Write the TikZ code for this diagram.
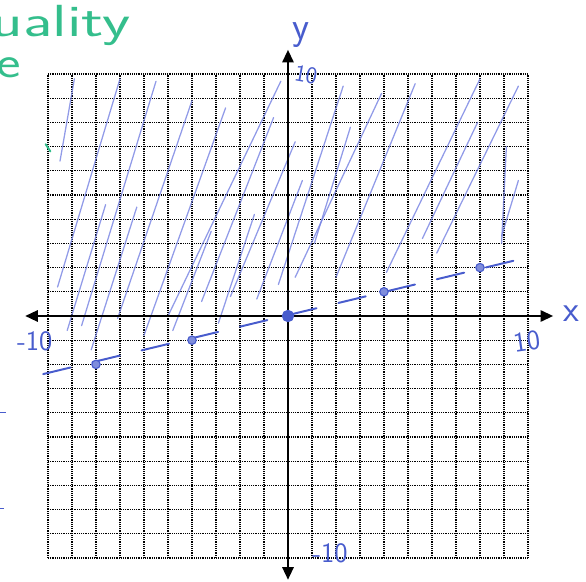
\documentclass[tikz,border=0pt]{standalone}
\usetikzlibrary{arrows.meta}
\definecolor{penblue}{RGB}{72,92,205}
\definecolor{hatchblue}{RGB}{118,130,226}
\definecolor{greenink}{RGB}{52,190,140}
\begin{document}
\begin{tikzpicture}[x=0.6cm,y=0.605cm,
  gridline/.style={black, line width=0.8pt, dash pattern=on 0.7pt off 0.6pt},
  axis/.style={black, line width=1.6pt, -{Triangle[length=9pt,width=8pt]}},
  hatch/.style={hatchblue, line width=0.9pt, line cap=round, opacity=0.8},
  bound/.style={penblue, line width=1.4pt, line cap=round, dash pattern=on 20pt off 16pt},
  dotpt/.style={circle, fill=penblue!70, draw=penblue, line width=0.8pt, inner sep=0pt, minimum size=6pt},
  hand/.style={penblue, font=\sffamily\fontsize{20}{20}\selectfont, inner sep=0pt},
  greentext/.style={greenink, font=\sffamily\fontsize{32}{32}\selectfont, inner sep=0pt}
]
\useasboundingbox (-12,-10.992) rectangle (12.417,13.058);
% grid
\draw[gridline] (-10,-10) grid[step={(1,1)}] (10,10);
% hatching (shading above y = x/4)
\foreach \a/\b/\c/\d in {
  -9.5/6.4/-8.9/9.8,
  -9.6/1.2/-7.0/9.8,
  -9.2/-0.6/-7.6/4.6,
  -8.6/-0.4/-5.5/9.7,
  -8.2/-1.4/-6.3/4.5,
  -7.1/-0.1/-4.0/8.9,
  -6.0/-0.8/-2.6/8.6,
  -5.0/0.0/-0.3/9.7,
  -4.8/-0.6/-3.2/3.5,
  -3.6/0.6/-0.6/8.2,
  -2.9/-0.3/-1.4/4.2,
  -2.4/0.8/0.3/7.2,
  -1.3/0.7/0.6/5.6,
  -0.4/1.3/2.3/9.5,
  0.3/1.6/3.9/9.2,
  1.1/3.0/2.6/7.8,
  2.0/1.6/5.3/9.6,
  4.1/1.8/8.0/9.8,
  5.6/3.2/7.9/8.0,
  6.2/2.6/9.6/9.5,
  8.9/3.0/9.1/7.0,
  8.9/3.3/9.6/5.6}
  \draw[hatch] (\a,\b) -- (\c,\d);
% axes
\coordinate (xl) at (-10.95,0);
\coordinate (xr) at (11.05,0);
\coordinate (yb) at (0,-10.9);
\coordinate (yt) at (0,11.0);
\draw[axis] (0,0) -- (xl);
\draw[axis] (0,0) -- (xr);
\draw[axis] (0,0) -- (yb);
\draw[axis] (0,0) -- (yt);
% boundary line y = x/4 (dashed)
\coordinate (bl) at (-10.2,-2.4);
\coordinate (br) at (10.1,2.45);
\draw[bound] (bl) -- (br);
% plotted points
\node[dotpt] (p1) at (-8,-2) {};
\node[dotpt] (p2) at (-4,-1) {};
\node[dotpt, minimum size=8pt, fill=penblue] (p0) at (0,0) {};
\node[dotpt] (p3) at (4,1) {};
\node[dotpt] (p4) at (8,2) {};
% handwritten labels
\node[hand, font=\sffamily\fontsize{28}{28}\selectfont] (ylab) at (0.55,11.6) {y};
\node[hand, rotate=-10, font=\sffamily\fontsize{17}{17}\selectfont] (y10) at (0.75,9.95) {10};
\node[hand, font=\sffamily\fontsize{26}{26}\selectfont] (xlab) at (11.8,0.1) {x};
\node[hand, rotate=8] (x10) at (9.95,-1.05) {10};
\node[hand] (xm10) at (-10.55,-1.05) {-10};
\node[hand] (ym10) at (1.75,-9.8) {-10};
% green writing at top left
\node[greentext, anchor=base west] (gt1) at (-12.35,11.55) {\scalebox{1.45}[1]{uality}};
\node[greentext, anchor=base west] (gt2) at (-12.15,9.85) {\scalebox{1.3}[1]{e}};
\draw[greenink, line width=1.4pt, line cap=round] (-10.1,7.1) -- (-9.9,6.8);
% faint blue marks at left margin
\draw[penblue, line width=1pt] (-12,-4.0) -- (-11.75,-4.0);
\draw[penblue, line width=0.8pt] (-12,-7.95) -- (-11.85,-7.95);
\end{tikzpicture}
\end{document}
